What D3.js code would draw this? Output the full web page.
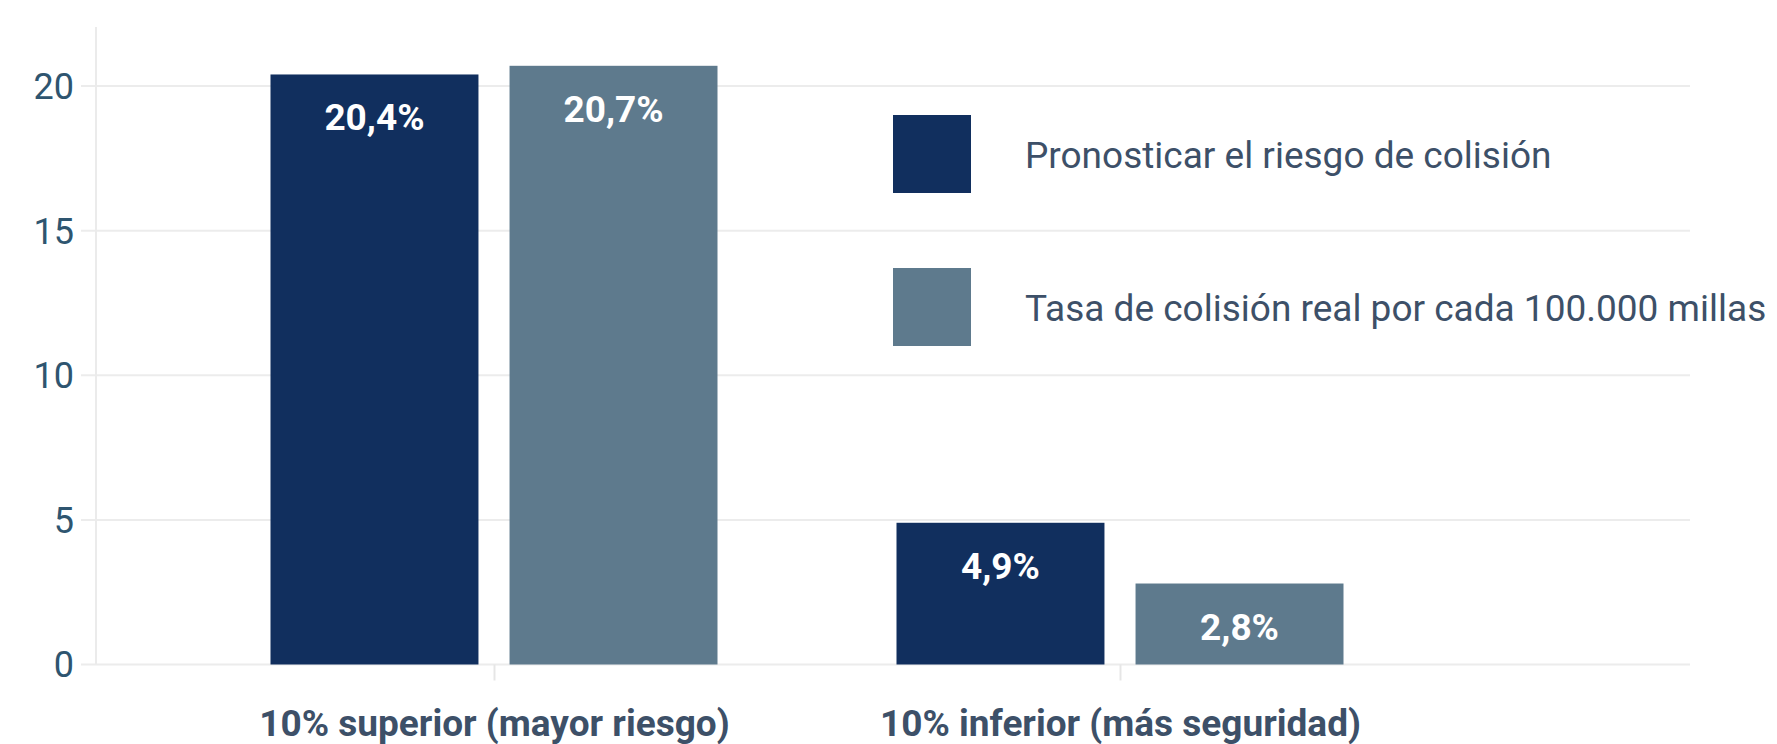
<!DOCTYPE html>
<html>
<head>
<meta charset="utf-8">
<script src="https://cdnjs.cloudflare.com/ajax/libs/d3/7.8.5/d3.min.js"></script>
<style>
html,body{margin:0;padding:0;background:#fff;}
svg{display:block;font-family:Roboto,"Noto Sans",sans-serif;}
</style>
</head>
<body>
<svg id="chart" width="1777" height="744"></svg>
<script>
const categories = ["10% superior (mayor riesgo)", "10% inferior (más seguridad)"];
const seriesNames = ["Pronosticar el riesgo de colisión", "Tasa de colisión real por cada 100.000 millas"];
const predicted = [20.4, 4.9];
const actual = [20.7, 2.8];
const valueLabels = [["20,4%", "20,7%"], ["4,9%", "2,8%"]];
const yTicks = [0, 5, 10, 15, 20];
const colors = ["#112f5e", "#5e7a8d"];

const svg = d3.select("#chart");

const y = d3.scaleLinear().domain([0, 22]).range([664.5, 28.2]);
const x0 = d3.scaleBand().domain(categories).range([181.5, 1433.5]).padding(0);
const x1 = d3.scaleBand().domain(seriesNames).range([89, 536]).paddingInner(0.13).paddingOuter(0);

// gridlines
svg.append("g").selectAll("line").data(yTicks).join("line")
  .attr("x1", 81).attr("x2", 1690)
  .attr("y1", d => y(d)).attr("y2", d => y(d))
  .attr("stroke", "#ececec").attr("stroke-width", 2);

// y axis line
svg.append("line").attr("x1", 96).attr("x2", 96)
  .attr("y1", 27).attr("y2", y(0))
  .attr("stroke", "#ebebeb").attr("stroke-width", 2);

// y tick labels
svg.append("g").selectAll("text").data(yTicks).join("text")
  .attr("x", 74).attr("y", d => y(d))
  .attr("dy", "0.36em")
  .attr("text-anchor", "end")
  .attr("font-size", 36)
  .attr("fill", "#2e5570")
  .text(d => d);

// bottom category ticks
svg.append("g").selectAll("line").data(categories).join("line")
  .attr("x1", d => x0(d) + x0.bandwidth() / 2)
  .attr("x2", d => x0(d) + x0.bandwidth() / 2)
  .attr("y1", y(0)).attr("y2", y(0) + 16)
  .attr("stroke", "#e6e6e6").attr("stroke-width", 2);

// bars
const rows = categories.map((c, i) => ({cat: c, vals: [predicted[i], actual[i]], labels: valueLabels[i]}));
const groups = svg.append("g").selectAll("g").data(rows).join("g")
  .attr("transform", d => `translate(${x0(d.cat)},0)`);

groups.selectAll("rect").data(d => d.vals.map((v, j) => ({v, j, s: seriesNames[j]})))
  .join("rect")
  .attr("x", d => x1(d.s))
  .attr("width", x1.bandwidth())
  .attr("y", d => y(d.v))
  .attr("height", d => y(0) - y(d.v))
  .attr("fill", d => colors[d.j]);

groups.selectAll("text").data(d => d.vals.map((v, j) => ({v, j, s: seriesNames[j], label: d.labels[j]})))
  .join("text")
  .attr("x", d => x1(d.s) + x1.bandwidth() / 2)
  .attr("y", d => y(d.v) + 56)
  .attr("text-anchor", "middle")
  .attr("font-size", 37)
  .attr("font-weight", "bold")
  .attr("fill", "#ffffff")
  .text(d => d.label);

// category labels
svg.append("g").selectAll("text").data(categories).join("text")
  .attr("x", d => x0(d) + x0.bandwidth() / 2)
  .attr("y", 736)
  .attr("text-anchor", "middle")
  .attr("font-size", 37)
  .attr("font-weight", "bold")
  .attr("fill", "#3d5068")
  .text(d => d);

// legend
const legend = svg.append("g").selectAll("g").data(seriesNames).join("g")
  .attr("transform", (d, i) => `translate(893,${115 + i * 153})`);
legend.append("rect").attr("width", 78).attr("height", 78)
  .attr("fill", (d, i) => colors[i]);
legend.append("text").attr("x", 132).attr("y", 53)
  .attr("font-size", 37)
  .attr("fill", "#3d5068")
  .text(d => d);
</script>
</body>
</html>
